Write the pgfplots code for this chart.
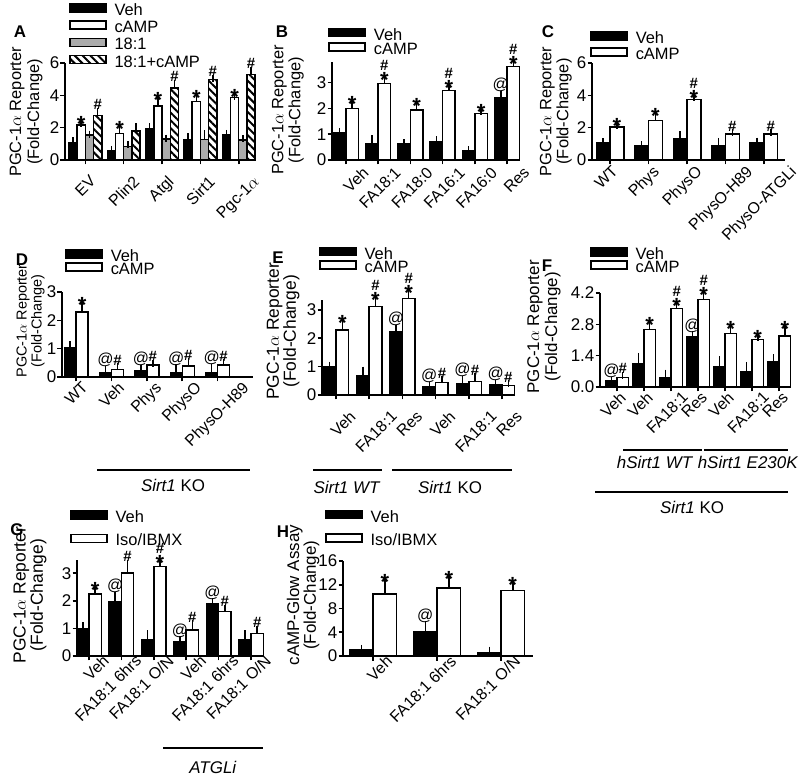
\documentclass[border=0pt]{standalone}
\usepackage{fontspec}
\setmainfont{Liberation Sans}
\usepackage{graphicx}
\usepackage{pgfplots}
\pgfplotsset{compat=1.18}
\usetikzlibrary{patterns.meta}
\newcommand{\fs}[1]{\fontsize{#1}{#1}\selectfont}
\newcommand{\rl}[1]{\rotatebox{45}{#1}}
\newcommand{\AS}[2]{\node[font=\bfseries\fs{22}, inner sep=0pt, anchor=base, yshift=-8bp] at (axis cs:#1,#2) {*};}
\newcommand{\AH}[2]{\node[font=\bfseries\fs{15}, inner sep=0pt, anchor=base, yshift=1.5bp] at (axis cs:#1,#2) {\#};}
\newcommand{\AT}[2]{\node[font=\fs{16}, inner sep=0pt, anchor=base, yshift=4.5bp] at (axis cs:#1,#2) {@};}
\newcommand{\ASH}[2]{\AS{#1}{#2}\node[font=\bfseries\fs{15}, inner sep=0pt, anchor=base, yshift=9bp] at (axis cs:#1,#2) {\#};}
\pgfplotsset{
  panel/.style={
    scale only axis, anchor=south west,
    axis lines=left, axis line style={line width=1.8bp, -},
    ymin=0, clip=false, ybar,
    tick align=outside, major tick length=4.5bp,
    every tick/.style={line width=1.6bp, black},
    yticklabel style={font=\fs{17}, inner sep=1bp},
    xticklabel style={font=\fs{16}, inner sep=0pt},
    ylabel style={align=center, anchor=center},
    /pgf/number format/assume math mode=true,
    legend cell align=left,
    legend image code/.code={\draw[##1, line width=1.5bp] (0bp,0bp) rectangle (36bp,8bp);},
    legend style={draw=none, fill=none, inner sep=0pt, column sep=8bp, font=\fs{16.5},
      nodes={inner sep=0pt, text height=8bp, text depth=1bp}, anchor=north west},
    error bars/y dir=plus, error bars/y explicit,
    error bars/error bar style={line width=1.5bp, black},
    error bars/error mark options={mark size=3.5bp, line width=1.5bp, black},
  },
  ylab/.style n args={4}{ylabel style={font=\fontsize{#1}{#2}\selectfont, at={(axis description cs:#3,#4)}}},
  lblC/.style 2 args={xticklabel style={anchor=north, xshift=#1, yshift=#2}},
  lblN/.style 2 args={xticklabel style={rotate=45, anchor=north east, xshift=#1, yshift=#2}},
  vb/.style={fill=black, draw=black, line width=1.2bp},
  cb/.style={fill=white, draw=black, line width=1.5bp},
  gb/.style={fill=black!33, draw=black, line width=1.5bp},
  hb/.style={pattern={Lines[angle=-45, distance=5.5bp, line width=2bp]}, draw=black, line width=1.5bp},
}
\begin{document}
\begin{tikzpicture}
\useasboundingbox (0,0) rectangle (800bp,782bp);
% ---------------- A
\begin{axis}[panel, at={(65bp,622bp)}, width=191bp, height=97bp,
  xmin=-0.53, xmax=4.45, ymax=6, ytick={0,2,4,6}, xtick={0,...,4},
  xticklabels={\rl{EV},\rl{Plin2},\rl{Atgl},\rl{Sirt1},\rl{Pgc-1$\alpha$}}, bar width=0.215,
  lblC={0bp}{-10bp},
  ylabel={PGC-1$\alpha$ Reporter\\(Fold-Change)},
  ylab={16.5}{18}{-0.204}{0.495},
  legend style={at={(axis description cs:0.02,1.62)}, row sep=4bp}]
\addplot[vb, bar shift=-0.3225] coordinates {(0,1.05) +- (0,0.15) (1,0.6) +- (0,0.05) (2,1.95) +- (0,0.1) (3,1.28) +- (0,0.15) (4,1.55) +- (0,0.1)};
\addplot[cb, bar shift=-0.1075] coordinates {(0,2.15) +- (0,0.08) (1,1.65) +- (0,0.3) (2,3.35) +- (0,0.4) (3,3.62) +- (0,0.25) (4,3.85) +- (0,0.05)};
\addplot[gb, bar shift=0.1075] coordinates {(0,1.55) +- (0,0.05) (1,0.85) +- (0,0.1) (2,1.3) +- (0,0.05) (3,1.28) +- (0,0.35) (4,1.25) +- (0,0.05)};
\addplot[hb, bar shift=0.3225] coordinates {(0,2.75) +- (0,0.25) (1,1.8) +- (0,0.25) (2,4.45) +- (0,0.3) (3,4.97) +- (0,0.1) (4,5.3) +- (0,0.25)};
\legend{Veh,cAMP,18:1,18:1+cAMP}
\AS{-0.1075}{2.23} \AH{0.3225}{3.0} \AS{0.8925}{1.95} \AS{1.8925}{3.75} \AH{2.3225}{4.75}
\AS{2.8925}{3.87} \AH{3.3225}{5.07} \AS{3.8925}{3.9} \AH{4.3225}{5.55}
\end{axis}
% ---------------- B
\begin{axis}[panel, at={(332bp,622bp)}, width=186bp, height=98bp,
  xmin=-0.43, xmax=5.34, ymax=3.8, ytick={0,1,2,3}, xtick={0,...,5},
  xticklabels={Veh,FA18:1,FA18:0,FA16:1,FA16:0,Res}, bar width=0.39,
  lblN={10bp}{-12bp},
  ylabel={PGC-1$\alpha$ Reporter\\(Fold-Change)},
  ylab={16.5}{17}{-0.237}{0.51},
  legend style={at={(axis description cs:-0.02,1.35)}, row sep=1bp}]
\addplot[vb, bar shift=-0.195] coordinates {(0,1.05) +- (0,0.06) (1,0.63) +- (0,0.2) (2,0.62) +- (0,0.05) (3,0.73) +- (0,0.06) (4,0.36) +- (0,0.03) (5,2.42) +- (0,0.12)};
\addplot[cb, bar shift=0.195] coordinates {(0,2.0) +- (0,0.2) (1,2.97) +- (0,0.17) (2,1.93) +- (0,0.17) (3,2.7) +- (0,0.1) (4,1.8) +- (0,0.07) (5,3.62) +- (0,0.13)};
\legend{Veh,cAMP}
\AS{0.195}{2.2} \ASH{1.195}{3.14} \AS{2.195}{2.1} \ASH{3.195}{2.8} \AS{4.195}{1.87} \AT{4.805}{2.54} \ASH{5.195}{3.75}
\end{axis}
% ---------------- C
\begin{axis}[panel, at={(592bp,622bp)}, width=193bp, height=97bp,
  xmin=-0.47, xmax=4.55, ymax=6, ytick={0,2,4,6}, xtick={0,...,4},
  xticklabels={\rl{WT},\rl{Phys},\rl{PhysO},\rl{PhysO-H89},\rl{PhysO-ATGLi}}, bar width=0.36,
  lblC={-4bp}{0bp},
  ylabel={PGC-1$\alpha$ Reporter\\(Fold-Change)},
  ylab={16.5}{17}{-0.187}{0.5},
  legend style={at={(axis description cs:-0.01,1.33)}, row sep=3bp}]
\addplot[vb, bar shift=-0.18] coordinates {(0,1.05) +- (0,0.07) (1,0.9) +- (0,0.05) (2,1.35) +- (0,0.2) (3,0.9) +- (0,0.25) (4,1.1) +- (0,0.06)};
\addplot[cb, bar shift=0.18] coordinates {(0,2.05) +- (0,0.1) (1,2.45) +- (0,0.3) (2,3.75) +- (0,0.12) (3,1.6) +- (0,0.1) (4,1.6) +- (0,0.07)};
\legend{Veh,cAMP}
\AS{0.18}{2.15} \AS{1.18}{2.75} \ASH{2.18}{3.87} \AH{3.18}{1.7} \AH{4.18}{1.67}
\end{axis}
% ---------------- D
\begin{axis}[panel, at={(62bp,405bp)}, width=191bp, height=85bp,
  xmin=-0.4, xmax=5.0, ymax=3, ytick={0,1,2,3}, xtick={0,...,4},
  xticklabels={\rl{WT},\rl{Veh},\rl{Phys},\rl{PhysO},\rl{PhysO-H89}}, bar width=0.34,
  lblC={0bp}{1bp},
  ylabel={PGC-1$\alpha$ Reporter\\(Fold-Change)},
  ylab={14.5}{15}{-0.165}{0.66},
  legend style={at={(axis description cs:0.016,1.506)}, row sep=0bp}]
\addplot[vb, bar shift=-0.17] coordinates {(0,1.05) +- (0,0.08) (1,0.17) +- (0,0.1) (2,0.22) +- (0,0.08) (3,0.17) +- (0,0.15) (4,0.17) +- (0,0.18)};
\addplot[cb, bar shift=0.17] coordinates {(0,2.3) +- (0,0.25) (1,0.27) +- (0,0.1) (2,0.42) +- (0,0.07) (3,0.38) +- (0,0.15) (4,0.42) +- (0,0.08)};
\legend{Veh,cAMP}
\AS{0.17}{2.55}
\AT{0.83}{0.27} \AH{1.17}{0.37} \AT{1.83}{0.30} \AH{2.17}{0.49}
\AT{2.83}{0.32} \AH{3.17}{0.53} \AT{3.83}{0.35} \AH{4.17}{0.50}
\end{axis}
% ---------------- E
\begin{axis}[panel, at={(322bp,387bp)}, width=191bp, height=95bp,
  xmin=-0.42, xmax=5.33, ymax=3.35, ytick={0,1,2,3}, xtick={0,...,5},
  xticklabels={\rl{Veh},\rl{FA18:1},\rl{Res},\rl{Veh},\rl{FA18:1},\rl{Res}}, bar width=0.38,
  lblC={7bp}{-10bp},
  ylabel={PGC-1$\alpha$ Reporter\\(Fold-Change)},
  ylab={17.5}{17}{-0.204}{0.67},
  legend style={at={(axis description cs:-0.016,1.56)}, row sep=0bp}]
\addplot[vb, bar shift=-0.19] coordinates {(0,1.0) +- (0,0.05) (1,0.7) +- (0,0.18) (2,2.23) +- (0,0.12) (3,0.29) +- (0,0.06) (4,0.41) +- (0,0.14) (5,0.35) +- (0,0.06)};
\addplot[cb, bar shift=0.19] coordinates {(0,2.29) +- (0,0.28) (1,3.12) +- (0,0.23) (2,3.41) +- (0,0.19) (3,0.44) +- (0,0.09) (4,0.47) +- (0,0.18) (5,0.33) +- (0,0.06)};
\legend{Veh,cAMP}
\AS{0.19}{2.57} \ASH{1.19}{3.35} \AT{1.81}{2.35} \ASH{2.19}{3.6}
\AT{2.81}{0.35} \AH{3.19}{0.53} \AT{3.81}{0.55} \AH{4.19}{0.65} \AT{4.81}{0.41} \AH{5.19}{0.39}
\end{axis}
% ---------------- F
\begin{axis}[panel, at={(600bp,395bp)}, width=188bp, height=94bp,
  xmin=-0.63, xmax=6.33, ymax=4.2, ytick={0,1.4,2.8,4.2}, xtick={0,...,6},
  yticklabel style={/pgf/number format/.cd, fixed, fixed zerofill, precision=1},
  xticklabels={\rl{Veh},\rl{Veh},\rl{FA18:1},\rl{Res},\rl{Veh},\rl{FA18:1},\rl{Res}}, bar width=0.42,
  lblC={-4bp}{1bp},
  ylabel={PGC-1$\alpha$ Reporter\\(Fold-Change)},
  ylab={17}{18}{-0.298}{0.64},
  legend style={at={(axis description cs:-0.053,1.49)}, row sep=0bp}]
\addplot[vb, bar shift=-0.21] coordinates {(0,0.27) +- (0,0.04) (1,1.04) +- (0,0.33) (2,0.42) +- (0,0.2) (3,2.24) +- (0,0.1) (4,0.89) +- (0,0.33) (5,0.7) +- (0,0.27) (6,1.12) +- (0,0.19)};
\addplot[cb, bar shift=0.21] coordinates {(0,0.42) +- (0,0.1) (1,2.56) +- (0,0.23) (2,3.5) +- (0,0.15) (3,3.9) +- (0,0.23) (4,2.38) +- (0,0.22) (5,2.13) +- (0,0.07) (6,2.28) +- (0,0.32)};
\legend{Veh,cAMP}
\AT{-0.21}{0.31} \AH{0.21}{0.52} \AS{1.21}{2.79} \ASH{2.21}{3.65} \AT{2.79}{2.34} \ASH{3.21}{4.13}
\AS{4.21}{2.6} \AS{5.21}{2.2} \AS{6.21}{2.6}
\end{axis}
% ---------------- G
\begin{axis}[panel, at={(77bp,126bp)}, width=186bp, height=96bp,
  xmin=-0.37, xmax=5.37, ymax=3.48, ytick={0,1,2,3}, xtick={0,...,5},
  xticklabels={Veh,FA18:1 6hrs,FA18:1 O/N,Veh,FA18:1 6hrs,FA18:1 O/N}, bar width=0.38,
  lblN={14bp}{-4bp},
  ylabel={PGC-1$\alpha$ Reporter\\(Fold-Change)},
  ylab={17.5}{16}{-0.253}{0.635},
  legend style={at={(axis description cs:-0.038,1.52)}, row sep=10bp}]
\addplot[vb, bar shift=-0.19] coordinates {(0,1.0) +- (0,0.09) (1,1.97) +- (0,0.24) (2,0.6) +- (0,0.2) (3,0.52) +- (0,0.07) (4,1.89) +- (0,0.08) (5,0.6) +- (0,0.2)};
\addplot[cb, bar shift=0.19] coordinates {(0,2.25) +- (0,0.15) (1,3.0) +- (0,0.36) (2,3.24) +- (0,0.15) (3,0.94) +- (0,0.22) (4,1.61) +- (0,0.12) (5,0.82) +- (0,0.15)};
\legend{Veh,Iso/IBMX}
\AS{0.19}{2.4} \AT{0.81}{2.21} \AH{1.19}{3.36} \ASH{2.19}{3.39} \AT{2.81}{0.59} \AH{3.19}{1.16}
\AT{3.81}{1.97} \AH{4.19}{1.73} \AH{5.19}{0.97}
\end{axis}
% ---------------- H
\begin{axis}[panel, at={(343bp,126bp)}, width=190bp, height=95bp,
  xmin=-0.47, xmax=2.5, ymax=16, ytick={0,4,8,12,16}, xtick={0,1,2},
  xticklabels={Veh,FA18:1 6hrs,FA18:1 O/N}, bar width=0.367,
  lblN={13bp}{-4bp},
  ylabel={cAMP-Glow Assay\\(Fold-Change)},
  ylab={17}{17}{-0.21}{0.64},
  legend style={at={(axis description cs:-0.095,1.54)}, row sep=10bp}]
\addplot[vb, bar shift=-0.1835] coordinates {(0,1.12) +- (0,0.16) (1,4.08) +- (0,1.2) (2,0.6) +- (0,0.4)};
\addplot[cb, bar shift=0.1835] coordinates {(0,10.4) +- (0,2.1) (1,11.45) +- (0,1.65) (2,11.06) +- (0,1.0)};
\legend{Veh,Iso/IBMX}
\AS{0.1835}{12.5} \AT{0.8165}{5.28} \AS{1.1835}{13.1} \AS{2.1835}{12.06}
\end{axis}
% ---------------- panel letters and group lines
\tikzset{lt/.style={font=\bfseries\fs{17}, inner sep=0pt}, grp/.style={font=\fs{17}, inner sep=0pt}}
\node[lt] at (20bp,750bp) {A};
\node[lt] at (282bp,750bp) {B};
\node[lt] at (548bp,750bp) {C};
\node[lt] at (22bp,522bp) {D};
\node[lt] at (278bp,524bp) {E};
\node[lt] at (547bp,516bp) {F};
\node[lt] at (17bp,252bp) {G};
\node[lt] at (283bp,250bp) {H};
\draw[line width=1.5bp] (97bp,312bp) -- (250bp,312bp);
\node[grp] at (173bp,297bp) {\textit{Sirt1} KO};
\draw[line width=1.5bp] (313bp,312bp) -- (382bp,312bp);
\draw[line width=1.5bp] (392bp,312bp) -- (512bp,312bp);
\node[grp] at (347bp,295bp) {\textit{Sirt1 WT}};
\node[grp] at (450bp,295bp) {\textit{Sirt1} KO};
\draw[line width=1.5bp] (623bp,332bp) -- (702bp,332bp);
\draw[line width=1.5bp] (704bp,332bp) -- (788bp,332bp);
\node[grp] at (655bp,320bp) {\textit{hSirt1 WT}};
\node[grp] at (748bp,320bp) {\textit{hSirt1 E230K}};
\draw[line width=1.5bp] (595bp,290bp) -- (788bp,290bp);
\node[grp] at (692bp,275bp) {\textit{Sirt1} KO};
\draw[line width=1.5bp] (163bp,34bp) -- (263bp,34bp);
\node[grp] at (213bp,15bp) {\textit{ATGLi}};
\end{tikzpicture}
\end{document}
